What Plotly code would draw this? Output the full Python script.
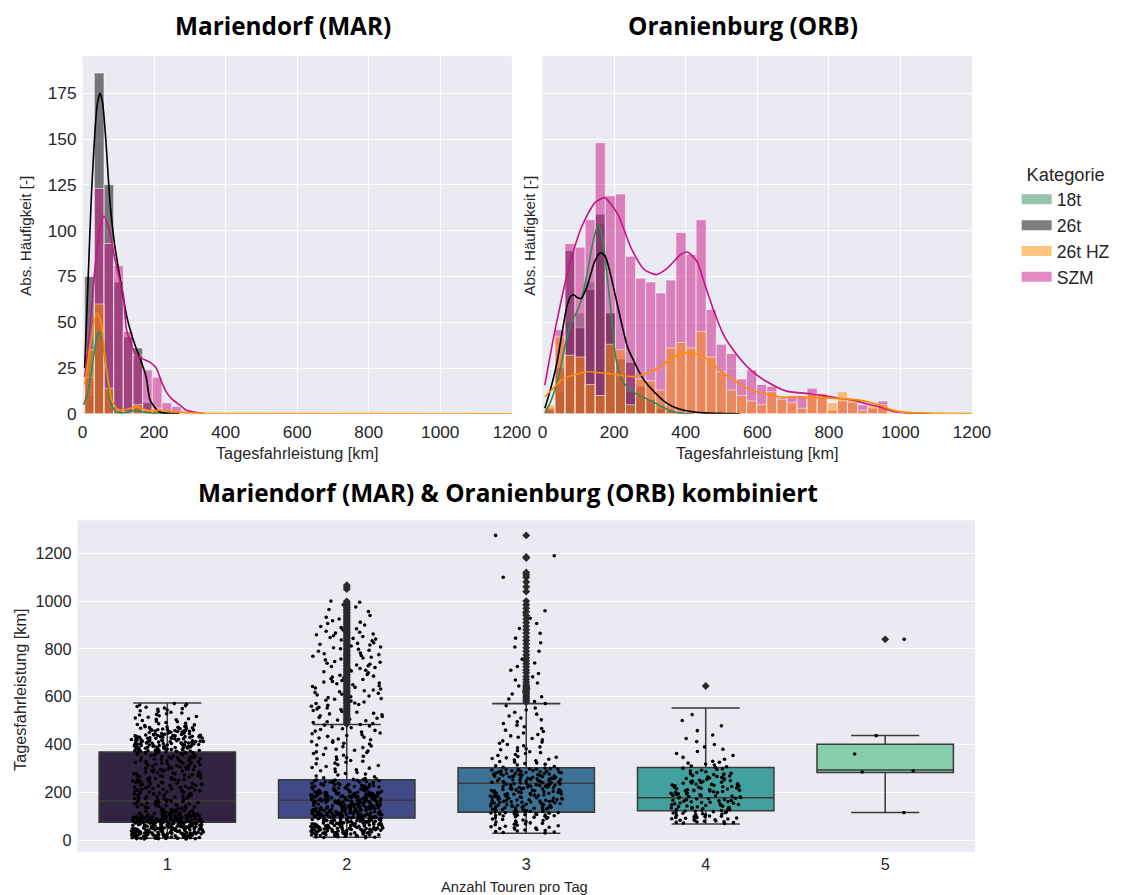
import numpy as np
import plotly.graph_objects as go

# reference frame is 1126 x 895; K compensates the page-to-photo scaling
REF_W, REF_H = 1126, 895
K = 1.0152
W, H = round(REF_W * K), round(REF_H * K)

# ---------------- categories / colours ----------------
CATEGORIES = ["18t", "26t", "26t HZ", "SZM"]
COLORS = {"18t": "46,139,87", "26t": "0,0,0", "26t HZ": "255,140,0", "SZM": "199,21,133"}

# ---------------- Mariendorf (MAR) histogram counts ----------------
MAR_BIN_START = 6.0
MAR_BIN_WIDTH = 27.0
mar_counts = {
    "18t":    [10, 45, 12, 2, 0, 2, 0, 0, 0, 0, 0],
    "26t":    [75, 186, 125, 72, 42, 36, 6, 2, 1, 1, 0],
    "26t HZ": [35, 60, 14, 2, 1, 5, 2, 3, 1, 0, 0],
    "SZM":    [20, 123, 93, 81, 45, 32, 24, 20, 6, 4, 1],
}
mar_kde_x = {
    "18t":    [3, 15, 30, 40, 49, 56, 63, 70, 77, 91, 110, 130, 150, 170, 200, 240],
    "26t":    [6, 15, 25, 35, 42, 49, 56, 65, 77, 90, 105, 125, 146, 165, 178, 188, 200, 216, 240, 270],
    "26t HZ": [6, 20, 32, 40, 48, 54, 62, 68, 75, 81, 95, 105, 125, 140, 151, 165, 180, 197, 216, 240, 280, 330, 400, 1200],
    "SZM":    [6, 20, 35, 48, 60, 75, 90, 105, 114, 122, 132, 150, 169, 190, 206, 220, 234, 250, 271, 290, 313, 340],
}
mar_kde_y = {
    "18t":    [5, 12, 30, 42, 45, 40, 30, 18, 8, 1.5, 0.5, 1, 2, 1, 0.3, 0],
    "26t":    [25, 70, 120, 155, 170, 175, 170, 150, 115, 92, 74, 52, 38, 28, 20, 8, 4, 1, 0.3, 0],
    "26t HZ": [16, 35, 50, 55, 52, 47, 33, 23, 14, 8, 3, 2, 2.5, 3.5, 4, 3, 2, 1.5, 2, 1.5, 0.8, 0.3, 0.1, 0],
    "SZM":    [20, 45, 80, 100, 108, 100, 85, 72, 65, 47, 40, 32, 30, 28, 25, 18, 12, 8, 5, 2, 1, 0],
}

# ---------------- Oranienburg (ORB) histogram counts ----------------
ORB_BIN_START = 6.0
ORB_BIN_WIDTH = 28.2
orb_counts = {
    "18t":    [3, 12, 50, 55, 72, 104, 55, 20, 12, 10, 6, 5, 2, 1, 0, 0, 0, 0, 0, 0, 0, 0, 0, 0, 0, 0, 0, 0, 0, 0, 0, 0, 0, 0, 0],
    "26t":    [2, 25, 89, 47, 68, 109, 55, 30, 28, 15, 8, 3, 2, 1, 1, 0, 0, 0, 0, 0, 0, 0, 0, 0, 0, 0, 0, 0, 0, 0, 0, 0, 0, 0, 0],
    "26t HZ": [5, 42, 32, 31, 16, 10, 38, 35, 5, 19, 18, 13, 36, 39, 36, 45, 31, 23, 13, 10, 7, 5, 12, 8, 6, 3, 11, 11, 6, 12, 8, 2, 5, 5, 1],
    "SZM":    [3, 46, 93, 91, 106, 148, 119, 120, 86, 74, 72, 66, 73, 99, 87, 106, 57, 38, 33, 19, 24, 16, 15, 9, 10, 10, 14, 11, 2, 7, 6, 5, 3, 7, 0],
}
orb_kde_x = {
    "18t":    [6, 11, 25, 39, 53, 67, 80, 94, 108, 122, 141, 155, 165, 173, 187, 205, 224, 252, 289, 317, 354, 380, 420],
    "26t":    [6, 20, 39, 55, 67, 78, 87, 97, 108, 125, 145, 162, 175, 190, 205, 220, 238, 257, 275, 293, 312, 330, 349, 370, 395, 450, 550],
    "26t HZ": [6, 30, 53, 90, 127, 182, 220, 256, 303, 330, 358, 390, 414, 440, 460, 479, 500, 525, 550, 571, 618, 664, 710, 756, 800, 849, 886, 915, 942, 965, 988, 1020, 1053, 1100, 1200],
    "SZM":    [6, 34, 71, 108, 145, 173, 210, 247, 284, 317, 349, 386, 405, 432, 451, 479, 506, 544, 581, 627, 682, 747, 784, 830, 868, 905, 942, 965, 988, 1030, 1080],
}
orb_kde_y = {
    "18t":    [0.5, 2, 8, 16, 28, 41, 50, 55, 62, 74, 94, 103, 98, 88, 63, 30, 17.5, 12, 8.4, 5.6, 2, 0.5, 0],
    "26t":    [3, 12, 27, 45, 58, 64, 65, 63.5, 63, 70, 83, 88, 86, 76, 63, 50, 36, 28, 21, 16, 12, 8.5, 5.6, 3.5, 2, 0.5, 0],
    "26t HZ": [9.3, 14, 18.5, 21.5, 23, 22, 21, 20.3, 23, 26, 30, 33, 33.5, 32, 30, 26.7, 23, 19.4, 16.5, 14, 11, 9.3, 9, 8.8, 8.6, 8.2, 7.5, 6.3, 4.7, 3, 1.5, 0.8, 0.5, 0.3, 0.2],
    "SZM":    [15.7, 45, 78, 101.6, 115, 118, 109, 90.6, 78.8, 76, 79.6, 87, 88.3, 83, 72, 56, 43, 32, 24, 17.5, 12.4, 11, 10, 8.4, 7.5, 5.5, 3.8, 2.2, 1, 0.3, 0],
}

# ---------------- combined box plot ----------------
tours = [1, 2, 3, 4, 5]
box_q1 = [75, 92, 117, 123, 283]
box_median = [163, 167, 238, 177, 293]
box_q3 = [369, 252, 303, 304, 401]
box_lower = [8, 12, 29, 67, 115]
box_upper = [574, 484, 571, 553, 438]
box_colors = ["#302440", "#414a86", "#3c7296", "#42a09e", "#86cdac"]

# strip points (km) per tour count, split into density bands
strip_1 = [
    [5,5,6,6,6,7,7,8,8,8,9,9,10,10,10,11,11,12,12,12,13,13,14,14,14,15,15,16,16,16,17,17,18,18,18,19,19,20,20,20,
     21,21,22,22,22,23,23,24,24,24,25,25,26,26,26,27,27,28,28,28,29,29,30,30,30,31,31,32,32,32,33,33,34,34,34,35,35,
     36,36,36,37,37,38,38,38,39,39,40,40,40,41,41,42,42,42,43,43,44,44,44,45,45,46,46,46,47,47,48,48,48,49,49,50,50,
     50,51,51,52,52,52,53,53,54,54,54,55,55,56,56,56,57,57,58,58,58,59,59,60,60,60,61,61,62,62,62,63,63,64,64,64,65,
     65,66,66,66,67,67,68,68,68,69,69,70,70,70,71,71,72,72,72,73,73,74,74,74,75,75,76,76,76,77,77,78,78,78,79,79,80,
     80,80,81,81,82,82,82,83,83,84,84,84,85,85,86,86,86,87,87,88,88,88,89,89,90,90,90,91,91,92,92,92,93,93,94,94,94,
     95,95,96,96,96,97,97,98,98,98,99,99,100,100,100,101,101,102,102,103,103,104,104,105,105,106,106,107,107,108,108,
     109,110,110,111,112,112,113,114,115,116,117,118,119,120,121,122,123,124,125,126,127,128,130,131,133,135],
    [136,137,138,140,141,142,144,145,146,148,149,150,152,153,154,156,157,158,160,161,162,164,165,166,168,169,170,172,
     173,174,176,177,178,180,181,182,184,185,186,188,189,190,192,193,194,196,197,198,200,201,202,204,205,206,208,209,
     210,212,213,214,216,217,218,220,221,222,224,225,226,228,229,230,232,233,234,236,237,238,240,241,242,244,245,246,
     248,249,250,252,253,254,256,257,258,260,261,262,264,265,266,268,269,270,272,273,274,276,277,278,280,281,282,284,
     285,286,288,289,290,292,293,294,296,297,298,300,301,302,304,305,306,308,309,310,312,313,314,316,317,318,320,321,
     322,324,325,326,328,329,330,332,333,334,336,337,338,340,341,342,344,345,346,348,349,350,352,353,354,356,357,358,
     360,361,362,364],
    [365,366,366,367,368,368,369,370,370,371,372,372,373,374,374,375,376,376,377,378,378,379,380,380,381,382,382,383,
     384,384,385,386,386,387,388,388,389,390,390,391,392,392,393,394,394,395,396,396,397,398,398,399,400,400,401,402,
     402,403,404,404,405,406,406,407,408,408,409,410,410,411,412,412,413,414,414,415,416,416,417,418,418,419,420,420,
     421,422,422,423,424,424,425,426,426,427,428,428,429,430,430,431,432,432,433,434,434,435,436,436,437,438,438,439,
     440,440,441,442,442,443,444,445,446,447,448,449,450,451,452,453,454,455,456,457,458,459,460,461,462,463,464,465,
     466,467,468,469,470,471,472,473,474,475],
    [477,479,482,484,487,489,492,495,497,500,503,505,508,511,514,517,520,523,526,529,532,535,538,541,544,547,550,553,
     556,559,562,565,568,571],
]
strip_2 = [
    [10,11,12,13,14,15,16,17,18,19,20,20,21,21,22,22,23,23,24,24,25,25,26,26,27,27,28,28,29,29,30,30,31,31,32,32,33,
     33,34,34,35,35,36,36,37,37,38,38,39,39,40,40,41,41,42,42,43,43,44,44,45,45,46,46,47,47,48,48,49,49,50,50,51,51,
     52,52,53,53,54,54,55,55,56,56,57,57,58,58,59,59,60,60,61,61,62,62,63,63,64,64,65,65,66,66,67,67,68,68,69,69,70,
     70,71,71,72,72,73,73,74,74,75,75,76,76,77,77,78,78,79,79,80,80,81,81,82,82,83,83,84,84,85,85,86,86,87,87,88,88,
     89,89,90,90,91,91,92,92,93,93,94,94,95,95,96,96,97,97,98,98,99,99,100,100,101,101,102,102,103,103,104,104,105,
     105,106,106,107,107,108,108,109,109,110,110,111,111,112,112,113,113,114,114,115,115,116,116,117,117,118,118,119,
     119,120,120,121,121,122,122,123,123,124,124,125,125,126,126,127,127,128,128,129,129,130,130,131,131,132,132,133,
     133,134,134,135,135,136,136,137,137,138,138,139,139,140,140,141,141,142,142,143,143,144,144,145,145,146,146,147,
     147,148,148,149,149,150,150,151,151,152,152,153,153,154,154,155,155,156,156,157,157,158,158,159,159,160,160,161,
     161,162,162,163,163,164,164,165,165,166,166,167,167,168,168,169,169,170,170,171,171,172,172,173,173,174,174,175,
     175,176,176,177,177,178,178,179,179,180,180,181,181,182,182,183,183,184,184,185,185,186,186,187,187,188,188,189,
     189,190,190,191,191,192,192,193,193,194,194,195,195,196,196,197,197,198,198,199,199,200,200,201,202,203,204,205,
     206,207,208,209,210,211,212,213,214,215,216,217,218,219,220,221,222,223,224,225,226,227,228,229,230,231,232,233,
     234,235,236,237,238,239,240,241,242,243,244,245,246,247,248,249,250,251,252,253,254,255],
    [258,261,265,268,272,276,279,283,286,290,294,297,301,304,308,312,315,319,322,326,330,333,337,340,344,348,351,355,
     358,362,366,369,373,376,380,384,387,391,394,398,402,405,409,412,416,420,423,427,430,434,438,441,445,448,452,456,
     459,463,466,470,474,477,481,484,488,492,495,499,502,506,510,513,517,520,524,528,531,535,538,542,546,549,553,556,
     560,564,567,571,574,578,582,585,589,592,596,600,603,607,610,614,618,621,625,628,632,636,639,643,646,650,654,657,
     661,664,668,672,675,679,682,686,690,693,697,700,704,708,711,715,718,722,726,729,733,736,740,744,747,751,754,758,
     762,765,769,772,776,780,783,787,790,794,798,801,805,808,812,816,819,823,826,830,834,837,841,844,848,852,855,859,
     862,866,870,874,879,884,889,894,900,906,912,918,925,932,940,948,956,965,975,985,995,1000],
]
strip_3 = [
    [30,32,34,36,38,40,42,44,46,48,50,52,54,56,58,60,62,64,66,68,70,72,74,76,78,80,82,84,86,88,90,92,94,96,98],
    [100,101,102,103,104,105,106,107,108,109,110,111,112,113,114,115,116,117,118,119,120,121,122,123,124,125,126,127,
     128,129,130,131,132,133,134,135,136,137,138,139,140,141,142,143,144,145,146,147,148,149,150,151,152,153,154,155,
     156,157,158,159,160,161,162,163,164,165,166,167,168,169,170,171,172,173,174,175,176,177,178,179,180,181,182,183,
     184,185,186,187,188,189,190,191,192,193,194,195,196,197,198,199,200,201,202,203,204,205,206,207,208,209,210,211,
     212,213,214,215,216,217,218,219,220,221,222,223,224,225,226,227,228,229,230,231,232,233,234,235,236,237,238,239,
     240,241,242,243,244,245,246,247,248,249,250,251,252,253,254,255,256,257,258,259,260,261,262,263,264,265,266,267,
     268,269,270,271,272,273,274,275,276,277,278,279,280,281,282,283,284,285,286,287,288,289,290,291,292,293,294,295,
     296,297,298,299],
    [302,305,308,311,314,317,320,323,326,329,332,335,338,341,344,347,350,354,358,362,366,370,374,378,382,386,390,395,
     400,405,410,415,420,425,430,436,442,448,454,460,467,474,481,488,495,503,511,519,527,535,544,553,562,571,580,590,
     600,611,622,633,645,657,670,683,697,711,726,741,757,773,790,808,826,845,865,885,906,928,950],
    [960, 1100, 1190, 1275],
]
strip_4 = [
    [70,71,73,74,76,77,79,80,82,83,85,86,88,89,91,92,94,95,97,98,100,101,103,104,106,107,109,110,112,113,115,116,118,
     119,121,122,124,125,127,128,130,131,133,134,136,137,139,140,142,143,145,146,148,149,151,152,154,155,157,158,160,
     161,163,164,166,167,169,170,172,173,175,176,178,179,181,182,184,185,187,188,190,191,193,194,196,197,199,200,202,
     203,205,206,208,209,211,212,214,215,217,218,220,221,223,224,226,227,229,230,232,233,235,236,238,239,241,242,244,
     245,247,248,250,252,254,256,258,260,262,264,266,268,270,272,274,276,278,280,283,286,289,292,295,298,301,304,307,
     310,314,318,322,326,330],
    [338, 346, 354, 362, 371, 380, 390, 400, 412, 425, 440, 458, 478, 500, 525],
]
strip_5 = [[115, 285, 290, 360, 437, 840]]
strips = {1: strip_1, 2: strip_2, 3: strip_3, 4: strip_4, 5: strip_5}

# box-plot outliers (fliers), drawn on the category centre
fliers = {
    2: [486, 492, 498, 505, 511, 518, 524, 531, 537, 544, 550, 557, 563, 570, 576, 583, 589, 596, 602, 609, 615, 622,
        628, 635, 641, 648, 654, 661, 667, 674, 680, 687, 693, 700, 706, 713, 719, 726, 732, 739, 745, 752, 758, 765,
        771, 778, 784, 791, 797, 804, 810, 817, 823, 830, 836, 843, 849, 856, 862, 869, 875, 882, 888, 895, 901, 908,
        914, 921, 927, 934, 940, 947, 953, 960, 966, 973, 979, 986, 992, 999, 1050, 1058, 1066],
    3: [578, 585, 592, 600, 607, 614, 621, 629, 636, 643, 650, 660, 672, 685, 700, 712, 725, 738, 750, 762, 775, 790,
        805, 820, 835, 850, 866, 880, 895, 910, 925, 940, 955, 970, 985, 1000, 1040, 1060, 1080, 1100, 1110, 1120,
        1180, 1185, 1275],
    4: [645],
    5: [840],
}

# ---------------- figure ----------------
TXT = "#262626"
BG = "#eaeaf2"
FONT = "Liberation Sans"


def fs(v):
    return v * K


fig = go.Figure()


def add_hist(counts, kde_x, kde_y, start, width, xa, ya):
    draw_order = ["18t", "26t", "SZM", "26t HZ"]
    for cat in draw_order:
        c = np.asarray(counts[cat], dtype=float)
        centers = start + width * (np.arange(len(c)) + 0.5)
        fig.add_trace(go.Bar(
            x=centers, y=c, width=width, xaxis=xa, yaxis=ya, showlegend=False,
            marker=dict(color=f"rgba({COLORS[cat]},0.5)",
                        line=dict(color="rgba(255,255,255,0.55)", width=fs(1))),
            name=cat,
        ))
    for cat in draw_order:
        fig.add_trace(go.Scatter(
            x=kde_x[cat], y=kde_y[cat], mode="lines", xaxis=xa, yaxis=ya, showlegend=False,
            line=dict(color=f"rgb({COLORS[cat]})", width=fs(1.6), shape="spline", smoothing=0.6),
            name=cat,
        ))


add_hist(mar_counts, mar_kde_x, mar_kde_y, MAR_BIN_START, MAR_BIN_WIDTH, "x", "y")
add_hist(orb_counts, orb_kde_x, orb_kde_y, ORB_BIN_START, ORB_BIN_WIDTH, "x2", "y2")

# legend entries
for cat in CATEGORIES:
    fig.add_trace(go.Scatter(
        x=[None], y=[None], mode="lines", name=cat, xaxis="x2", yaxis="y2",
        line=dict(color=f"rgba({COLORS[cat]},0.5)", width=fs(13)),
    ))

# box plot: boxes
BOX_W = 0.76
for i, t in enumerate(tours):
    fig.add_trace(go.Box(
        x=[t], q1=[box_q1[i]], median=[box_median[i]], q3=[box_q3[i]],
        lowerfence=[box_lower[i]], upperfence=[box_upper[i]],
        xaxis="x3", yaxis="y3", showlegend=False, boxpoints=False,
        fillcolor=box_colors[i], line=dict(color="#3a3a3a", width=fs(1.5)),
        width=BOX_W, whiskerwidth=0.5, name=str(t),
    ))
# fliers
for t, vals in fliers.items():
    fig.add_trace(go.Scatter(
        x=[t] * len(vals), y=vals, mode="markers", xaxis="x3", yaxis="y3", showlegend=False,
        marker=dict(symbol="diamond", size=fs(6), color="#2a2a2a"), name=str(t),
    ))
# strip points (jitter done by plotly)
for t, bands in strips.items():
    for vals in bands:
        fig.add_trace(go.Box(
            y=vals, x0=t, xaxis="x3", yaxis="y3", showlegend=False,
            boxpoints="all", jitter=0.53, pointpos=0, width=BOX_W,
            fillcolor="rgba(0,0,0,0)", line=dict(width=0, color="rgba(0,0,0,0)"),
            marker=dict(color="black", size=fs(3.5)), name=str(t), hoveron="points",
        ))


def px_x(p):
    return p / REF_W


def px_y(p):
    return 1 - p / REF_H


axis_common = dict(showgrid=True, gridcolor="white", gridwidth=fs(1.3), zeroline=False, showline=False,
                   ticks="", tickfont=dict(family=FONT, size=fs(17), color=TXT))
small_tick = dict(family=FONT, size=fs(16), color=TXT)

fig.update_layout(
    width=W, height=H, margin=dict(l=0, r=0, t=0, b=0),
    paper_bgcolor="white", plot_bgcolor=BG,
    barmode="overlay", boxmode="overlay",
    font=dict(family=FONT, color=TXT),
    xaxis=dict(domain=[px_x(78), px_x(510)], range=[0, 1200], tickvals=[0, 200, 400, 600, 800, 1000, 1200],
               anchor="y", ticklabelstandoff=round(fs(6)), **axis_common),
    yaxis=dict(domain=[px_y(412), px_y(56)], range=[0, 195.2], tickvals=[0, 25, 50, 75, 100, 125, 150, 175],
               anchor="x", ticklabelstandoff=round(fs(5)), **axis_common),
    xaxis2=dict(domain=[px_x(541), px_x(973)], range=[0, 1200], tickvals=[0, 200, 400, 600, 800, 1000, 1200],
                anchor="y2", ticklabelstandoff=round(fs(6)), **axis_common),
    yaxis2=dict(domain=[px_y(412), px_y(56)], range=[0, 195.2], tickvals=[0, 25, 50, 75, 100, 125, 150, 175],
                anchor="x2", showticklabels=False, **axis_common),
    xaxis3=dict(domain=[px_x(73), px_x(976)], range=[0.5, 5.5], tickvals=tours,
                ticktext=[str(t) for t in tours], anchor="y3", ticklabelstandoff=1,
                **{**axis_common, "showgrid": False, "tickfont": small_tick}),
    yaxis3=dict(domain=[px_y(848), px_y(518)], range=[-49, 1338], tickvals=[0, 200, 400, 600, 800, 1000, 1200],
                anchor="x3", ticklabelstandoff=round(fs(5)),
                **{**axis_common, "tickfont": small_tick}),
    legend=dict(x=px_x(1018), y=px_y(157), xanchor="left", yanchor="top",
                bgcolor="rgba(0,0,0,0)", font=dict(family=FONT, size=fs(17.3), color=TXT),
                title=dict(text="Kategorie", side="top center", font=dict(family=FONT, size=fs(18), color=TXT)),
                itemwidth=30, tracegroupgap=0),
    showlegend=True,
)

ann = []
TITLE_FONT = dict(family="Open Sans", size=fs(24), color="black")
ann.append(dict(text="<b>Mariendorf (MAR)</b>", x=px_x(280), y=px_y(25), font=TITLE_FONT))
ann.append(dict(text="<b>Oranienburg (ORB)</b>", x=px_x(743), y=px_y(25), font=TITLE_FONT))
ann.append(dict(text="<b>Mariendorf (MAR) &amp; Oranienburg (ORB) kombiniert</b>", x=px_x(506), y=px_y(490),
                font=TITLE_FONT))
LAB = dict(family=FONT, size=fs(16), color=TXT)
YLAB = dict(family=FONT, size=fs(15), color=TXT)
ann.append(dict(text="Tagesfahrleistung [km]", x=px_x(294), y=px_y(451), font=LAB))
ann.append(dict(text="Tagesfahrleistung [km]", x=px_x(757), y=px_y(451), font=LAB))
ann.append(dict(text="Abs. Häufigkeit [-]", x=px_x(20), y=px_y(235), font=YLAB, textangle=-90))
ann.append(dict(text="Abs. Häufigkeit [-]", x=px_x(527), y=px_y(235), font=YLAB, textangle=-90))
ann.append(dict(text="Tagesfahrleistung [km]", x=px_x(15), y=px_y(687), font=LAB, textangle=-90))
ann.append(dict(text="Anzahl Touren pro Tag", x=px_x(513), y=px_y(883), font=dict(family=FONT, size=fs(14.5), color=TXT)))
for a in ann:
    a.update(xref="paper", yref="paper", showarrow=False, xanchor="center", yanchor="middle")
fig.update_layout(annotations=ann)

fig.write_html("out.html", post_script="document.body.style.margin='0px';document.body.style.overflow='hidden';")
